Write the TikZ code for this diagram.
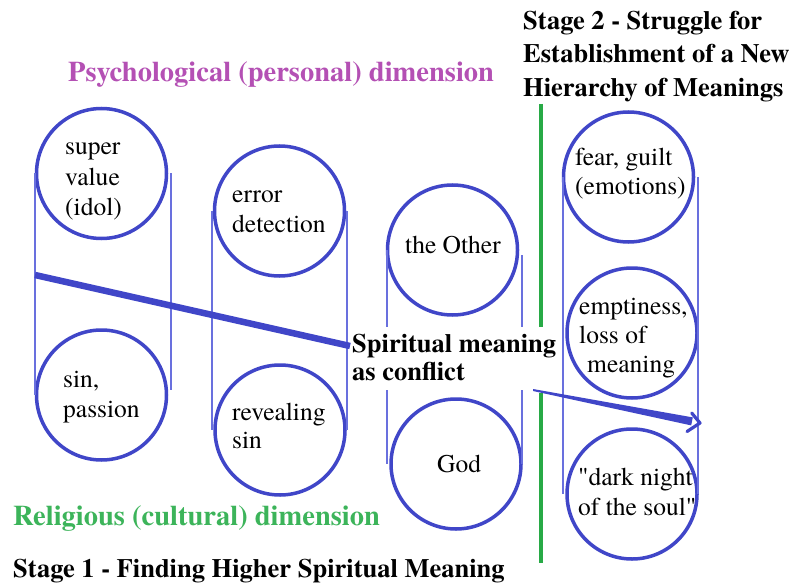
\documentclass[tikz,border=0pt]{standalone}
\usepackage{fontspec}
\IfFontExistsTF{texgyretermes-regular.otf}
  {\newfontfamily\serif{texgyretermes-regular.otf}[BoldFont=texgyretermes-bold.otf]}
  {\newfontfamily\serif{Liberation Serif}}
\usetikzlibrary{arrows.meta}
\definecolor{ringblue}{RGB}{64,70,200}
\definecolor{tieblue}{RGB}{105,112,222}
\definecolor{psych}{RGB}{180,80,180}
\definecolor{relig}{RGB}{60,180,90}
\definecolor{divider}{RGB}{40,170,70}
\tikzset{
  ring/.style={circle, draw=ringblue, line width=3.5pt, minimum size=130pt, inner sep=0pt, fill=white},
  tie/.style={draw=tieblue, line width=1.3pt},
  ctext/.style={anchor=base west, inner sep=0pt, font=\serif\fontsize{25.5}{30}\selectfont},
  stagetext/.style={anchor=base west, inner sep=0pt, font=\serif\fontsize{26.5}{33}\selectfont\bfseries},
  dimtext/.style={anchor=base west, inner sep=0pt, font=\serif\fontsize{28.5}{34}\selectfont\bfseries},
  flow/.style={draw=ringblue, line width=6.5pt},
  ties/.pic={
    \draw[tie] (35,173) -- (35,395);
    \draw[tie] (171,173) -- (171,390);
    \draw[tie] (212,211) -- (212,430);
    \draw[tie] (347,211) -- (347,430);
    \draw[tie] (387,250) -- (387,327);
    \draw[tie] (387,390) -- (387,464);
    \draw[tie] (522,255) -- (522,327);
    \draw[tie] (522,390) -- (522,464);
    \draw[tie] (563,177) -- (563,494);
    \draw[tie] (698,177) -- (698,494);
  },
}
\begin{document}
\begin{tikzpicture}[x=1pt, y=-1pt]
\path[use as bounding box, fill=white] (0,0) rectangle (794,588);

% side lines joining the circles of each column
\pic {ties};

% circles
\node[ring] (idol)  at (101.5,173.5) {};
\node[ring] (sin)   at (101.5,395) {};
\node[ring] (error) at (279.5,211) {};
\node[ring] (rev)   at (280,430) {};
\node[ring] (other) at (452.5,250) {};
\node[ring] (god)   at (456,464) {};
\node[ring] (fear)  at (628.5,177) {};
\node[ring] (empty) at (632,333) {};
\node[ring] (dark)  at (632,494) {};

% the side lines stay visible along the circle rims
\pic {ties};

% circle texts
\node[ctext] (t1a) at (65,155) {super};
\node[ctext] (t1b) at (65,185) {value};
\node[ctext] (t1c) at (65,215) {(idol)};
\node[ctext] (t2a) at (63,387) {sin,};
\node[ctext] (t2b) at (63,417) {passion};
\node[ctext] (t3a) at (232,202) {error};
\node[ctext] (t3b) at (232,232) {detection};
\node[ctext] (t4a) at (232,420) {revealing};
\node[ctext] (t4b) at (232,448) {sin};
\node[ctext] (t5a) at (405,253) {the Other};
\node[ctext] (t6a) at (437,472) {God};
\node[ctext] (t7a) at (575,165) {fear, guilt};
\node[ctext] (t7b) at (575,194) {(emotions)};
\node[ctext] (t8a) at (579,314) {emptiness,};
\node[ctext] (t8b) at (579,343) {loss of};
\node[ctext] (t8c) at (587,372) {meaning};
\node[ctext] (t9a) at (578,485) {"dark night};
\node[ctext] (t9b) at (578,515) {of the soul"};

% green divider between the stages
\draw[divider, line width=4pt] (541,104) -- (541,327);
\draw[divider, line width=4pt] (541,393) -- (541,563);

% flow of meaning
\coordinate (f1s) at (35,275);
\coordinate (f1e) at (350,346);
\draw[flow] (f1s) -- (f1e);

\coordinate (f2s) at (533,390);
\coordinate (f2e) at (700,423);
\fill[ringblue] (533,389) -- (692.8,417.4) -- (691.2,425.4) -- (533,391) -- cycle;
\draw[ringblue, line width=3.2pt, line cap=round, line join=round]
  (691.7,413) -- (f2e) -- (687,431.5);

% headings
\node[dimtext, text=psych] (psy) at (68,82) {Psychological (personal) dimension};
\node[dimtext, text=relig] (rel) at (13,525) {Religious (cultural) dimension};
\node[stagetext] (s1) at (13,577) {Stage 1 - Finding Higher Spiritual Meaning};
\node[stagetext] (s2a) at (523,30) {Stage 2 - Struggle for};
\node[stagetext] (s2b) at (523,63) {Establishment of a New};
\node[stagetext] (s2c) at (523,97) {Hierarchy of Meanings};
\node[stagetext] (sm1) at (352,352) {Spiritual meaning};
\node[stagetext] (sm2) at (352,380) {as conflict};
\end{tikzpicture}
\end{document}
